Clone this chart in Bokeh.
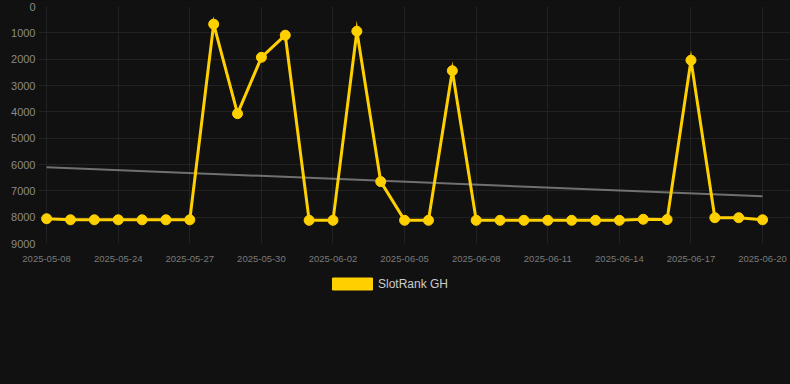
from bokeh.plotting import figure
from bokeh.layouts import column
from bokeh.models import Range1d, FixedTicker, Legend, LegendItem
from bokeh.embed import file_html
from bokeh.resources import INLINE

dates = [
    "2025-05-08", "2025-05-14", "2025-05-19", "2025-05-24", "2025-05-25",
    "2025-05-26", "2025-05-27", "2025-05-28", "2025-05-29", "2025-05-30",
    "2025-05-31", "2025-06-01", "2025-06-02", "2025-06-03", "2025-06-04",
    "2025-06-05", "2025-06-06", "2025-06-07", "2025-06-08", "2025-06-09",
    "2025-06-10", "2025-06-11", "2025-06-12", "2025-06-13", "2025-06-14",
    "2025-06-15", "2025-06-16", "2025-06-17", "2025-06-18", "2025-06-19",
    "2025-06-20",
]
ranks = [
    8060, 8100, 8100, 8100, 8100, 8100, 8100, 670, 4070, 1930,
    1090, 8120, 8120, 940, 6650, 8120, 8120, 2440, 8120, 8120,
    8120, 8120, 8120, 8120, 8120, 8080, 8090, 2040, 8020, 8020,
    8100,
]
trend_start = 6100
trend_end = 7210
y_ticks = [0, 1000, 2000, 3000, 4000, 5000, 6000, 7000, 8000, 9000]
series_name = "SlotRank GH"

GOLD = "#FFD000"
BG = "#111111"
FONT = "Liberation Sans"
CSS = {"background-color": BG}

idx = list(range(len(dates)))
label_idx = idx[::3]

p = figure(width=790, height=270, output_backend="svg", toolbar_location=None,
           title=None, styles=CSS,
           x_range=Range1d(-0.34, 31.17), y_range=Range1d(9000, 0),
           min_border_left=38, min_border_right=0, min_border_top=6,
           min_border_bottom=27)
p.background_fill_color = BG
p.border_fill_color = BG
p.outline_line_color = None

p.xaxis.ticker = FixedTicker(ticks=label_idx)
p.xaxis.major_label_overrides = {i: dates[i] for i in label_idx}
p.yaxis.ticker = FixedTicker(ticks=y_ticks)
p.yaxis.major_label_overrides = {v: str(v) for v in y_ticks}
for ax in (p.xaxis, p.yaxis):
    ax.axis_line_color = None
    ax.major_tick_line_color = None
    ax.minor_tick_line_color = None
    ax.major_tick_out = 0
    ax.major_tick_in = 0
    ax.major_label_text_font = FONT
    ax.major_label_text_color = "#8a8a8a"
p.yaxis.major_label_text_font_size = "11px"
p.yaxis.major_label_standoff = 3
p.xaxis.major_label_text_font_size = "9.5px"
p.xaxis.major_label_standoff = 12
p.xaxis.major_label_text_color = "#7a7a7a"

p.xgrid.ticker = FixedTicker(ticks=label_idx)
p.ygrid.ticker = FixedTicker(ticks=y_ticks)
p.xgrid.grid_line_color = "#222222"
p.ygrid.grid_line_color = "#222222"

p.line([idx[0], idx[-1]], [trend_start, trend_end], line_color="#888888",
       line_width=2, line_alpha=0.8)
p.line(idx, ranks, line_color=GOLD, line_width=3, line_join="miter")
p.scatter(idx, ranks, size=10, fill_color=GOLD, line_color=GOLD)

# legend strip below the chart (legend proxy glyph sits outside the view)
p2 = figure(width=790, height=114, output_backend="svg", toolbar_location=None,
            title=None, x_axis_type=None, y_axis_type=None, styles=CSS,
            x_range=Range1d(0, 1), y_range=Range1d(0, 1),
            min_border_left=38, min_border_right=0, min_border_top=0,
            min_border_bottom=0)
p2.background_fill_color = BG
p2.border_fill_color = BG
p2.outline_line_color = None
p2.xgrid.visible = False
p2.ygrid.visible = False
proxy = p2.quad(left=[-3], right=[-2], top=[-2], bottom=[-3],
                fill_color=GOLD, line_color=GOLD)
legend = Legend(items=[LegendItem(label=series_name, renderers=[proxy])],
                location=(289, 93), orientation="horizontal",
                padding=0, margin=0, border_line_color=None,
                background_fill_alpha=0, label_text_color="#cccccc",
                label_text_font=FONT, label_text_font_size="12px",
                glyph_width=50, glyph_height=15, label_height=15,
                label_standoff=1)
p2.add_layout(legend, "center")

layout = column(p, p2, spacing=0, styles=CSS)
html = file_html(layout, INLINE)
html = html.replace("<body>", '<body style="margin:0;background:#111111">', 1)
open("out.html", "w").write(html)
